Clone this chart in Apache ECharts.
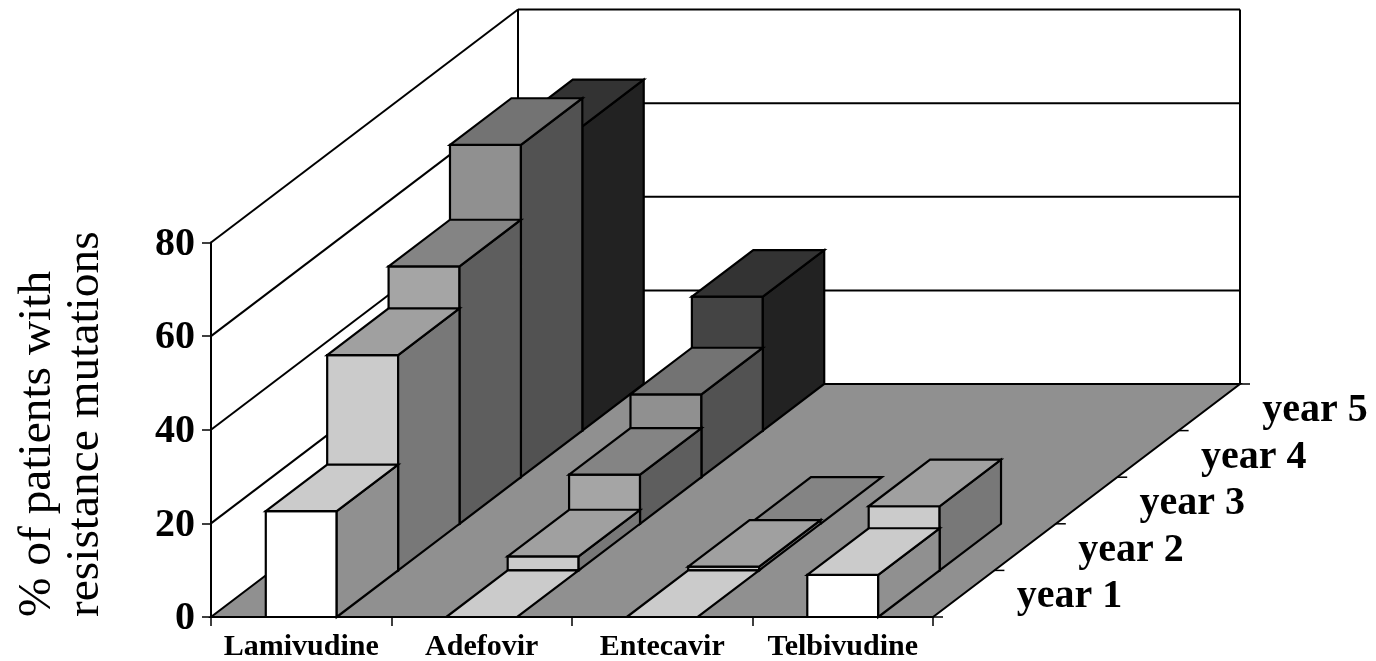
<!DOCTYPE html>
<html>
<head>
<meta charset="utf-8">
<script src="https://cdn.jsdelivr.net/npm/echarts@6/dist/echarts.min.js"></script>
<style>html,body{margin:0;padding:0;background:#fff}#c{width:1376px;height:661px}</style>
</head>
<body>
<div id="c"></div>
<script>
var categories = ['Lamivudine', 'Adefovir', 'Entecavir', 'Telbivudine'];
var years = ['year 1', 'year 2', 'year 3', 'year 4', 'year 5'];
var yTicks = [0, 20, 40, 60, 80];
var year1 = [22.6, 0, 0, 9];
var year2 = [46, 3, 0.8, 13.7];
var year3 = [55, 10.5, 0, null];
var year4 = [71, 17.7, null, null];
var year5 = [65, 28.6, null, null];
var yearValues = [year1, year2, year3, year4, year5];

var frontColors = ['#ffffff', '#cbcbcb', '#a5a5a5', '#909090', '#444444'];
var topColors = ['#cbcbcb', '#a0a0a0', '#848484', '#737373', '#333333'];
var sideColors = ['#909090', '#787878', '#5e5e5e', '#525252', '#222222'];
var floorColor = '#909090';

var depthDx = 61.4, depthDy = -46.6;
var barRatio = 0.393;
var serif = '"Liberation Serif","Times New Roman",serif';

function seg(x1, y1, x2, y2, lw) {
  return {type: 'line', shape: {x1: x1, y1: y1, x2: x2, y2: y2}, style: {stroke: '#000', lineWidth: lw}};
}
function poly(pts, fill, lw) {
  return {type: 'polygon', shape: {points: pts}, style: {fill: fill, stroke: '#000', lineWidth: lw, lineJoin: 'miter'}};
}

function renderWalls(params, api) {
  var cs = params.coordSys;
  var v = api.value(1);
  var y = api.coord([0, v])[1];
  var L = cs.x, R = cs.x + cs.width;
  var n = years.length;
  var ox = n * depthDx, oy = n * depthDy;
  var kids = [];
  if (v === 0) {
    kids.push(poly([[L, y], [R, y], [R + ox, y + oy], [L + ox, y + oy]], floorColor, 2));
    var topY = api.coord([0, yTicks[yTicks.length - 1]])[1] + oy;
    kids.push(seg(L + ox, y + oy, L + ox, topY, 2));
    kids.push(seg(R + ox, y + oy, R + ox, topY, 2));
  } else {
    kids.push(seg(L, y, L + ox, y + oy, 2));
    kids.push(seg(L + ox, y + oy, R + ox, y + oy, 2));
  }
  return {type: 'group', children: kids};
}

function renderDepthAxis(params, api) {
  var cs = params.coordSys;
  var d = api.value(1);
  var base = api.coord([0, 0]);
  var x = cs.x + cs.width + d * depthDx;
  var y = base[1] + d * depthDy;
  var kids = [seg(x, y, x + 10, y, 1.5)];
  if (d < years.length) {
    kids.push({
      type: 'text',
      style: {
        text: years[d], x: x + 136.5, y: y - 20,
        fill: '#000', font: 'bold 40px ' + serif, textAlign: 'center', textVerticalAlign: 'middle'
      }
    });
  }
  return {type: 'group', children: kids};
}

function makeBarRenderer(i) {
  return function (params, api) {
    var v = api.value(1), cat = api.value(0);
    var t = api.coord([cat, v]), b = api.coord([cat, 0]);
    var w = api.size([1, 0])[0] * barRatio;
    var x0 = t[0] - w / 2 + i * depthDx, x1 = x0 + w;
    var yT = t[1] + i * depthDy, yB = b[1] + i * depthDy;
    var kids = [];
    if (v > 0) {
      kids.push(poly([[x0, yB], [x1, yB], [x1, yT], [x0, yT]], frontColors[i], 2.2));
      kids.push(poly([[x1, yB], [x1 + depthDx, yB + depthDy], [x1 + depthDx, yT + depthDy], [x1, yT]], sideColors[i], 2.2));
    }
    kids.push(poly([[x0, yT], [x1, yT], [x1 + depthDx, yT + depthDy], [x0 + depthDx, yT + depthDy]], topColors[i], 2.2));
    return {type: 'group', children: kids};
  };
}

var series = [
  {
    type: 'custom', name: 'walls', silent: true, z: 1, clip: false,
    renderItem: renderWalls, encode: {x: 0, y: 1},
    data: yTicks.map(function (v) { return [0, v]; })
  },
  {
    type: 'custom', name: 'depth axis', silent: true, z: 1, clip: false,
    renderItem: renderDepthAxis, encode: {x: 0},
    data: [0, 1, 2, 3, 4, 5].map(function (d) { return [0, d]; })
  }
];
for (var i = years.length - 1; i >= 0; i--) {
  var rows = [];
  yearValues[i].forEach(function (v, c) { if (v !== null) rows.push([c, v]); });
  series.push({
    type: 'custom', name: years[i], silent: true, z: 3 + (years.length - i), clip: false,
    renderItem: makeBarRenderer(i), encode: {x: 0, y: 1}, data: rows
  });
}

var chart = echarts.init(document.getElementById('c'));
chart.setOption({
  animation: false,
  backgroundColor: '#fff',
  grid: {left: 211, right: 443, top: 242.5, bottom: 44, containLabel: false, outerBoundsMode: 'none'},
  xAxis: {
    type: 'category', data: categories, boundaryGap: true,
    axisLine: {lineStyle: {color: '#000', width: 2}},
    axisTick: {show: true, alignWithLabel: false, length: 9, lineStyle: {color: '#000', width: 1.5}},
    axisLabel: {interval: 0, margin: 15, color: '#000', fontFamily: serif, fontWeight: 'bold', fontSize: 30}
  },
  yAxis: {
    type: 'value', min: 0, max: 80, interval: 20,
    splitLine: {show: false},
    axisLine: {show: true, lineStyle: {color: '#000', width: 2}},
    axisTick: {show: true, length: 9, lineStyle: {color: '#000', width: 1.5}},
    axisLabel: {margin: 16, verticalAlign: 'top', lineHeight: 4, color: '#000', fontFamily: serif, fontWeight: 'bold', fontSize: 40}
  },
  graphic: [{
    type: 'text', x: 14, y: 617, rotation: Math.PI / 2, silent: true,
    style: {
      text: '% of patients with\nresistance mutations',
      fill: '#000', font: 'normal 47.4px ' + serif, lineHeight: 47.5,
      textAlign: 'left', textVerticalAlign: 'top'
    }
  }],
  series: series
});
</script>
</body>
</html>
